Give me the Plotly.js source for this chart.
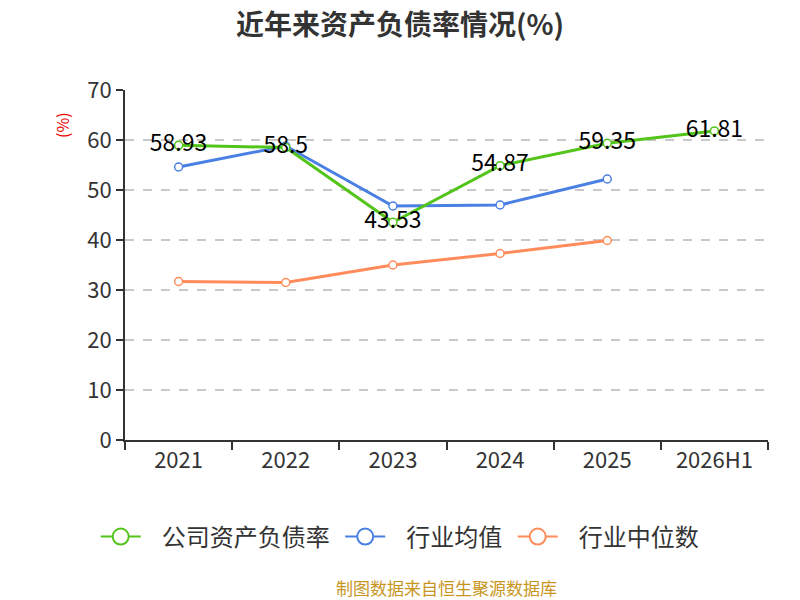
<!DOCTYPE html>
<html>
<head>
<meta charset="utf-8">
<script src="https://cdn.plot.ly/plotly-3.0.1.min.js"></script>
<style>body{margin:0}#chart{width:800px;height:600px}</style>
</head>
<body>
<div id="chart"></div>
<script>
const years = ['2021', '2022', '2023', '2024', '2025', '2026H1'];
const companyRate = [58.93, 58.5, 43.53, 54.87, 59.35, 61.81];
const industryMean = [54.6, 58.8, 46.8, 47.0, 52.2, null];
const industryMedian = [31.7, 31.5, 35.0, 37.3, 39.9, null];
const names = ['公司资产负债率', '行业均值', '行业中位数'];
const C = {green: '#52c41a', blue: '#4a7fe3', orange: '#ff8c5a'};
const FONT = '"Noto Sans CJK SC", "Noto Sans", sans-serif';
const NB = '\u00a0';

function lineTrace(y, color, withText) {
  const t = {
    type: 'scatter', mode: withText ? 'lines+markers+text' : 'lines+markers',
    x: years, y: y, showlegend: false, cliponaxis: false,
    line: {color: color, width: 3},
    marker: {symbol: 'circle', size: 8, color: '#fff', line: {color: color, width: 1.5}},
    hoverinfo: 'x+y'
  };
  if (withText) {
    t.text = y.map(v => String(v));
    t.textposition = 'middle center';
    t.textfont = {family: FONT, size: 23, color: '#000'};
  }
  return t;
}

// legend-only entries so the legend symbol can be larger than the point markers
function legendTrace(name, color, last) {
  return {
    type: 'scatter', mode: 'lines+markers', name: NB + NB + NB + name + (last ? '' : NB),
    x: [null], y: [null], showlegend: true,
    line: {color: color, width: 2},
    marker: {symbol: 'circle', size: 20, color: '#fff', line: {color: color, width: 2}}
  };
}

const data = [
  lineTrace(industryMedian, C.orange, false),
  lineTrace(industryMean, C.blue, false),
  lineTrace(companyRate, C.green, true),
  legendTrace(names[0], C.green, false),
  legendTrace(names[1], C.blue, false),
  legendTrace(names[2], C.orange, true)
];

const layout = {
  width: 800, height: 600,
  margin: {l: 125, r: 32, t: 90, b: 160},
  paper_bgcolor: '#fff', plot_bgcolor: '#fff',
  font: {family: FONT, color: '#333'},
  title: {text: '<b>近年来资产负债率情况(%)</b>', x: 0.5, xanchor: 'center', y: 0.958, yanchor: 'middle',
          font: {family: FONT, size: 28, color: '#333'}},
  xaxis: {
    type: 'category', range: [-0.5, 5.5], showgrid: false, showline: true, linecolor: '#333', linewidth: 2,
    ticks: 'outside', tickson: 'boundaries', ticklen: 8, tickcolor: '#333', tickwidth: 2,
    tickfont: {family: FONT, size: 22, color: '#333'}, fixedrange: true
  },
  yaxis: {
    range: [0, 70], dtick: 10, showline: true, linecolor: '#333', linewidth: 2,
    ticks: 'outside', ticklen: 7, tickcolor: '#333', tickwidth: 2,
    showgrid: true, gridcolor: '#c8c8c8', griddash: 'dash', gridwidth: 1.2, zeroline: false,
    tickfont: {family: FONT, size: 22, color: '#333'}, fixedrange: true
  },
  legend: {orientation: 'h', x: 0.428, xanchor: 'center', y: -0.277, yanchor: 'middle',
           font: {family: FONT, size: 24, color: '#333'}, itemwidth: 40, tracegroupgap: 0},
  annotations: [
    {text: '(%)', xref: 'paper', yref: 'paper', x: -0.098, y: 0.9, textangle: -90, showarrow: false,
     xanchor: 'center', yanchor: 'middle', font: {family: FONT, size: 16, color: '#e00'}},
    {text: '制图数据来自恒生聚源数据库', xref: 'paper', yref: 'paper', x: 0.5, y: -0.422, showarrow: false,
     xanchor: 'center', yanchor: 'middle', font: {family: FONT, size: 17, color: '#c8961e'}}
  ]
};

Plotly.newPlot('chart', data, layout, {displayModeBar: false, staticPlot: true});
</script>
</body>
</html>
